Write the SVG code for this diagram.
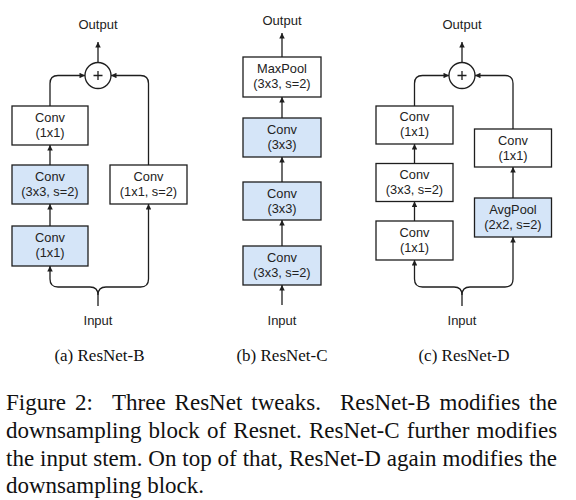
<svg xmlns="http://www.w3.org/2000/svg" width="576" height="500" viewBox="0 0 576 500">
<style>
.box{fill:#ffffff;stroke:#1e1e1e;stroke-width:1.3}
.blue{fill:#d5e5f8;stroke:#1e1e1e;stroke-width:1.3}
.lbl{font-family:"Liberation Sans",Arial,sans-serif;font-size:12.8px;fill:#222;text-anchor:middle}
.io{font-family:"Liberation Sans",Arial,sans-serif;font-size:13px;fill:#222;text-anchor:middle}
.con{fill:none;stroke:#1e1e1e;stroke-width:1.3}
.arr{marker-end:url(#ah)}
.sum{fill:#ffffff;stroke:#1e1e1e;stroke-width:1.3}
.cap{font-family:"Liberation Serif","Times New Roman",serif;font-size:17px;fill:#111;text-anchor:middle}
.fig{font-family:"Liberation Serif","Times New Roman",serif;font-size:23px;fill:#111}
</style>
<defs>
<marker id="ah" viewBox="0 0 6 6" refX="6" refY="3" markerWidth="6" markerHeight="5.5" markerUnits="userSpaceOnUse" orient="auto">
<path d="M0,0 L6,3 L0,6 z" fill="#1e1e1e"/>
</marker>
</defs>

<g id="connectors">
<!-- Panel A -->
<path class="con arr" d="M98,62.5 L98,42"/>
<path class="con arr" d="M50,106 V83.5 Q50,75.5 58,75.5 H85"/>
<path class="con arr" d="M148.5,165 V83.5 Q148.5,75.5 140.5,75.5 H111"/>
<path class="con arr" d="M50,165 L50,145"/>
<path class="con arr" d="M50,226 L50,204"/>
<path class="con arr" d="M98,306 V295 Q98,287 90,287 H58 Q50,287 50,279 V266"/>
<path class="con arr" d="M98,295 Q98,287 106,287 H140.5 Q148.5,287 148.5,279 V204"/>
<!-- Panel B -->
<path class="con arr" d="M282,57 L282,33"/>
<path class="con arr" d="M282,118 L282,97"/>
<path class="con arr" d="M282,182 L282,157"/>
<path class="con arr" d="M282,246 L282,220"/>
<path class="con arr" d="M282,305 L282,285"/>
<!-- Panel C -->
<path class="con arr" d="M462,62.5 L462,42"/>
<path class="con arr" d="M414.5,106 V83.5 Q414.5,75.5 422.5,75.5 H449"/>
<path class="con arr" d="M513,129 V83.5 Q513,75.5 505,75.5 H475"/>
<path class="con arr" d="M414.5,163.5 L414.5,144"/>
<path class="con arr" d="M414.5,221 L414.5,201.5"/>
<path class="con arr" d="M513,198 L513,167"/>
<path class="con arr" d="M462,306 V295 Q462,287 454,287 H422.5 Q414.5,287 414.5,279 V260"/>
<path class="con arr" d="M462,295 Q462,287 470,287 H505 Q513,287 513,279 V237"/>
</g>

<!-- Panel A nodes -->
<g id="a-output"><text class="io" x="98" y="29">Output</text></g>
<g id="a-sum"><circle class="sum" cx="98" cy="75.5" r="13"/><path class="con" d="M93.5,75.5 H102.5 M98,71 V80"/></g>
<g id="a-conv1"><rect class="box" x="12" y="106" width="76" height="39"/><text class="lbl" x="50" y="122">Conv</text><text class="lbl" x="50" y="137">(1x1)</text></g>
<g id="a-conv2"><rect class="blue" x="12" y="165" width="76" height="39"/><text class="lbl" x="50" y="181">Conv</text><text class="lbl" x="50" y="196">(3x3, s=2)</text></g>
<g id="a-conv3"><rect class="blue" x="12" y="226" width="76" height="40"/><text class="lbl" x="50" y="242">Conv</text><text class="lbl" x="50" y="257">(1x1)</text></g>
<g id="a-short"><rect class="box" x="110" y="165" width="77" height="39"/><text class="lbl" x="148.5" y="181">Conv</text><text class="lbl" x="148.5" y="196">(1x1, s=2)</text></g>
<g id="a-input"><text class="io" x="98" y="325">Input</text></g>

<!-- Panel B nodes -->
<g id="b-output"><text class="io" x="282" y="25">Output</text></g>
<g id="b-maxpool"><rect class="box" x="243" y="57" width="78" height="40"/><text class="lbl" x="282" y="73">MaxPool</text><text class="lbl" x="282" y="88">(3x3, s=2)</text></g>
<g id="b-conv3"><rect class="blue" x="243" y="118" width="78" height="39"/><text class="lbl" x="282" y="134">Conv</text><text class="lbl" x="282" y="149">(3x3)</text></g>
<g id="b-conv2"><rect class="blue" x="243" y="182" width="78" height="38"/><text class="lbl" x="282" y="198">Conv</text><text class="lbl" x="282" y="213">(3x3)</text></g>
<g id="b-conv1"><rect class="blue" x="243" y="246" width="78" height="39"/><text class="lbl" x="282" y="262">Conv</text><text class="lbl" x="282" y="277">(3x3, s=2)</text></g>
<g id="b-input"><text class="io" x="282" y="325">Input</text></g>

<!-- Panel C nodes -->
<g id="c-output"><text class="io" x="462" y="29">Output</text></g>
<g id="c-sum"><circle class="sum" cx="462" cy="75.5" r="13"/><path class="con" d="M457.5,75.5 H466.5 M462,71 V80"/></g>
<g id="c-conv1"><rect class="box" x="376" y="106" width="77" height="38"/><text class="lbl" x="414.5" y="121">Conv</text><text class="lbl" x="414.5" y="136">(1x1)</text></g>
<g id="c-conv2"><rect class="box" x="376" y="163.5" width="77" height="38"/><text class="lbl" x="414.5" y="179">Conv</text><text class="lbl" x="414.5" y="194">(3x3, s=2)</text></g>
<g id="c-conv3"><rect class="box" x="376" y="221" width="77" height="39"/><text class="lbl" x="414.5" y="237">Conv</text><text class="lbl" x="414.5" y="252">(1x1)</text></g>
<g id="c-shortconv"><rect class="box" x="474.5" y="129" width="77" height="38"/><text class="lbl" x="513" y="145">Conv</text><text class="lbl" x="513" y="160">(1x1)</text></g>
<g id="c-avgpool"><rect class="blue" x="474.5" y="198" width="77" height="39"/><text class="lbl" x="513" y="214">AvgPool</text><text class="lbl" x="513" y="229">(2x2, s=2)</text></g>
<g id="c-input"><text class="io" x="462" y="325">Input</text></g>

<!-- Sub-captions -->
<text class="cap" x="99.5" y="361">(a) ResNet-B</text>
<text class="cap" x="282" y="361">(b) ResNet-C</text>
<text class="cap" x="464" y="361">(c) ResNet-D</text>

<!-- Figure caption -->
<text class="fig" y="410"><tspan x="6">Figure</tspan><tspan x="75">2:</tspan><tspan x="112">Three</tspan><tspan x="174.6">ResNet</tspan><tspan x="251.3">tweaks.</tspan><tspan x="339.9">ResNet-B</tspan><tspan x="439.6">modifies</tspan><tspan x="529.1">the</tspan></text>
<text class="fig" y="438"><tspan x="6">downsampling</tspan><tspan x="148.6">block</tspan><tspan x="206.9">of</tspan><tspan x="233.3">Resnet.</tspan><tspan x="308.9">ResNet-C</tspan><tspan x="406.8">further</tspan><tspan x="476.6">modifies</tspan></text>
<text class="fig" y="466"><tspan x="6">the</tspan><tspan x="40">input</tspan><tspan x="93.2">stem.</tspan><tspan x="148.3">On</tspan><tspan x="182.3">top</tspan><tspan x="217.6">of</tspan><tspan x="242.7">that,</tspan><tspan x="288.9">ResNet-D</tspan><tspan x="386.8">again</tspan><tspan x="442.5">modifies</tspan><tspan x="528.9">the</tspan></text>
<text class="fig" x="6" y="493">downsampling block.</text>
</svg>
